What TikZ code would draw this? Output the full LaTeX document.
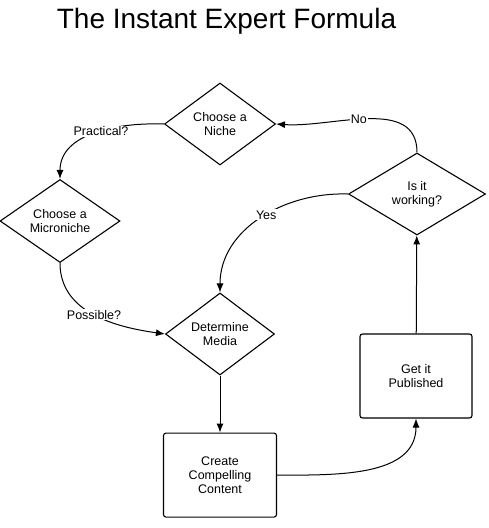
\documentclass[tikz,border=0pt]{standalone}
\usepackage{fontspec}
\setmainfont{Liberation Sans}
\usetikzlibrary{positioning,shapes.geometric,arrows.meta}

\begin{document}
\begin{tikzpicture}[x=1pt, y=-1pt, every node/.style={align=center, font=\fontsize{12.5}{14}\selectfont},
  decision/.style={diamond, draw, line width=1.1pt, inner sep=0pt, aspect=1.35},
  stepbox/.style={rectangle, draw, line width=1.1pt, rounded corners=2.5pt, minimum width=113pt, minimum height=84pt},
  flow/.style={-{Latex[length=9pt,width=7pt]}, line width=1pt},
  lbl/.style={fill=white, inner sep=1pt}]
\useasboundingbox (0,0) rectangle (489,528);

% Title
\node (title) [anchor=base, font=\fontsize{28}{32}\selectfont] at (226.5,28) {The Instant Expert Formula};

% Decisions and steps
\node (niche) [decision, minimum width=111pt, minimum height=82pt] at (220,124) {Choose a\\ Niche};
\node (micro) [decision, minimum width=120pt, minimum height=83pt] at (60,221) {Choose a\\ Microniche};
\node (media) [decision, minimum width=109pt, minimum height=82pt] at (220,334) {Determine\\ Media};
\node (working) [decision, minimum width=137pt, minimum height=82pt] at (417,194) {Is it\\ working?};
\node (content) [stepbox, below=57pt of media] {Create\\ Compelling\\ Content};
\node (published) [stepbox, minimum width=112pt] at (416,376) {Get it\\ Published};

% Arrows
\draw[flow] (niche.west) to[out=178, in=90] node[lbl, pos=0.45] (practical) {Practical?} (micro.north);
\draw[flow] (micro.south) to[out=-90, in=172] node[lbl, pos=0.5] (possible) {Possible?} (media.west);
\draw[flow] (working.west) to[out=178, in=90] node[lbl, pos=0.46] (yes) {Yes} (media.north);
\draw[flow] (working.north) to[out=90, in=-4] node[lbl, pos=0.55] (no) {No} (niche.east);
\draw[flow] (media) -- (content);
\draw[flow] (content.east) to[out=0, in=-90] (published.south);
\draw[flow] (published) -- (working);

\end{tikzpicture}
\end{document}
